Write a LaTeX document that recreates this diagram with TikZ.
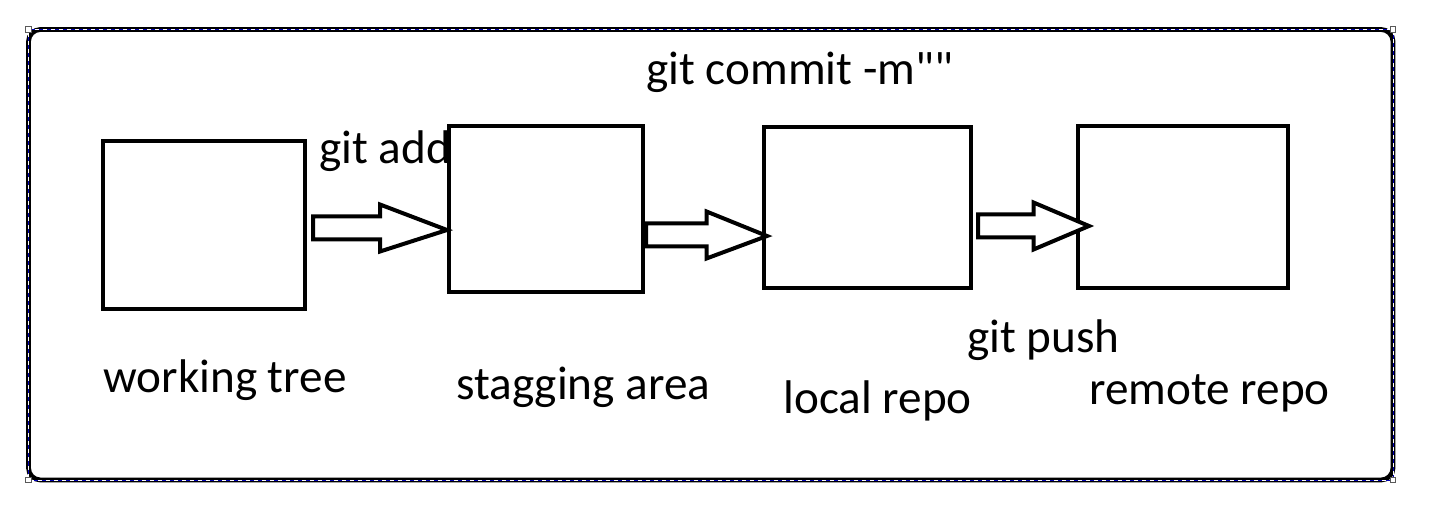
\documentclass[tikz,border=0pt]{standalone}
\usepackage{fontspec}
\setmainfont{Carlito}[Ligatures=TeXOff]
\usepackage{tikz}
\usetikzlibrary{calc}

\tikzset{
  stage/.style={draw, line width=2.3pt, inner sep=0pt},
  flow/.style={draw, line width=2pt, fill=white, line join=miter},
  txt/.style={anchor=base west, inner sep=0pt, font=\fontsize{23.6}{28}\selectfont},
  handle/.style={draw=gray!70!black, fill=white, line width=0.5pt, minimum size=2.6pt, inner sep=0pt},
}

% block arrow from tail to tip, head is half the length
\newcommand{\blockarrow}[2]{%
  \draw[flow] let \p1=(#1), \p2=(#2), \n1={(\x1+\x2)/2} in
    (\x1,\y1+5.75pt) -- (\n1,\y1+5.75pt) -- (\n1,\y1+11.75pt) -- (\x2,\y2)
    -- (\n1,\y1-11.75pt) -- (\n1,\y1-5.75pt) -- (\x1,\y1-5.75pt) -- cycle;
}

\begin{document}
\begin{tikzpicture}[x=0.5pt, y=-0.5pt]
            \useasboundingbox (0,0) rectangle (1443,512);
            % frame
            \coordinate (NW) at (28.5,29.5);
            \coordinate (SE) at (1393,480);
            \draw[line width=2.4pt, rounded corners=6pt] (NW) rectangle (SE);
            \draw[white, line width=0.5pt] (NW) rectangle (SE);
            \draw[blue!70!black, line width=0.5pt, dash pattern=on 2pt off 2pt] (NW) rectangle (SE);
            \node[handle] (hnw) at (NW) {};
            \node[handle] (hne) at (SE|-NW) {};
            \node[handle] (hsw) at (NW|-SE) {};
            \node[handle] (hse) at (SE) {};
            % stages
            \node[stage, minimum width=101pt, minimum height=84pt] (wtree) at (204,225) {};
            \node[stage, minimum width=97pt, minimum height=83pt] (stage) at (546,209) {};
            \node[stage, minimum width=103.5pt, minimum height=80.5pt] (local) at (867.5,207.5) {};
            \node[stage, minimum width=105pt, minimum height=81pt] (remote) at (1183,207) {};
            % arrows
            \coordinate (addtail) at (313,228);
            \coordinate (addtip) at (447,230);
            \coordinate (committail) at (646,235);
            \coordinate (committip) at (767,236);
            \coordinate (pushtail) at (978,226);
            \coordinate (pushtip) at (1089,226);
            \blockarrow{addtail}{addtip}
            \blockarrow{committail}{committip}
            \blockarrow{pushtail}{pushtip}
            % labels
            \node[txt] (lwtree) at (103,393) {working tree};
            \node[txt] (lstage) at (456,400) {stagging area};
            \node[txt] (llocal) at (783,414) {local repo};
            \node[txt] (lremote) at (1089,405) {remote repo};
            \node[txt] (ladd) at (319,164) {git add};
            \node[txt] (lcommit) at (646,85) {git commit -m""};
            \node[txt] (lpush) at (967,353) {git push};
        \end{tikzpicture}
\end{document}
